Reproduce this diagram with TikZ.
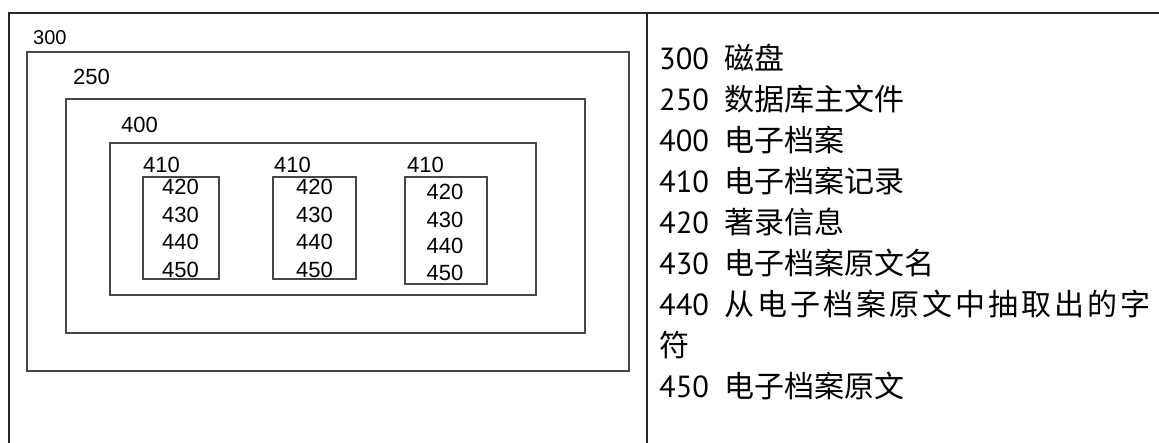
\documentclass[tikz,border=0pt]{standalone}
\usepackage{fontspec}
\setmainfont{Liberation Sans}
\newfontfamily\cjkf{Noto Sans CJK SC}
\newfontfamily\numf{PT Sans}
\newcommand\gp{\hspace{3pt}}
\begin{document}
\begin{tikzpicture}[x=1pt,y=1pt,
  frame/.style={line width=1.3pt,draw=black!85},
  box/.style={line width=1.6pt,draw=black!72},
  lbl/.style={anchor=base west,inner sep=0pt,font=\fontsize{22}{26}\selectfont},
  num/.style={anchor=base,inner sep=0pt,font=\fontsize{22}{26}\selectfont},
  rnum/.style={anchor=base west,inner sep=0pt,font=\numf\fontsize{30.5}{34}\selectfont},
  rtxt/.style={anchor=base west,inner sep=0pt,font=\cjkf\fontsize{30}{34}\selectfont}]
\useasboundingbox (0,0) rectangle (1159,443);
% table frame
\coordinate (tl) at (9,430);
\coordinate (tr) at (1159,430);
\coordinate (bl) at (9,0);
\coordinate (st) at (647,430);
\coordinate (sb) at (647,0);
\draw[frame] (bl) -- (tl) -- (tr);
\draw[frame] (st) -- (sb);
% nested boxes
\draw[box] (27,391) rectangle (629,72);
\draw[box] (66,344) rectangle (585,110);
\draw[box] (110,300) rectangle (536,148);
\draw[box] (143,266) rectangle (219,164);
\draw[box] (273,266) rectangle (356,164);
\draw[box] (405,266) rectangle (487,159);
% labels
\node[lbl,font=\fontsize{20}{24}\selectfont] (l300) at (33,398) {300};
\node[lbl] (l250) at (73,358) {250};
\node[lbl] (l400) at (121,310) {400};
\node[lbl] (l410a) at (143,270) {410};
\node[lbl] (l410b) at (274,270) {410};
\node[lbl] (l410c) at (407,270) {410};
% record contents
\node[num] (a420) at (180.5,248) {420};
\node[num] (a430) at (180.5,220.3) {430};
\node[num] (a440) at (180.5,193.7) {440};
\node[num] (a450) at (180.5,165.3) {450};
\node[num] (b420) at (314.5,248) {420};
\node[num] (b430) at (314.5,220.3) {430};
\node[num] (b440) at (314.5,193.7) {440};
\node[num] (b450) at (314.5,165.3) {450};
\node[num] (c420) at (445,243.7) {420};
\node[num] (c430) at (445,215.7) {430};
\node[num] (c440) at (445,189.7) {440};
\node[num] (c450) at (445,162.3) {450};
% legend
\node[rnum] (n1) at (659,373) {300};
\node[rtxt] (t1) at (724,373) {磁盘};
\node[rnum] (n2) at (659,332) {250};
\node[rtxt] (t2) at (724,332) {数据库主文件};
\node[rnum] (n3) at (659,291) {400};
\node[rtxt] (t3) at (724,291) {电子档案};
\node[rnum] (n4) at (659,250) {410};
\node[rtxt] (t4) at (724,250) {电子档案记录};
\node[rnum] (n5) at (659,209) {420};
\node[rtxt] (t5) at (724,209) {著录信息};
\node[rnum] (n6) at (659,168) {430};
\node[rtxt] (t6) at (724,168) {电子档案原文名};
\node[rnum] (n7) at (659,127) {440};
\node[rtxt] (t7) at (724,127) {从\gp 电\gp 子\gp 档\gp 案\gp 原\gp 文\gp 中\gp 抽\gp 取\gp 出\gp 的\gp 字};
\node[rtxt] (t8) at (659,86) {符};
\node[rnum] (n9) at (659,45) {450};
\node[rtxt] (t9) at (724,45) {电子档案原文};
\end{tikzpicture}
\end{document}
